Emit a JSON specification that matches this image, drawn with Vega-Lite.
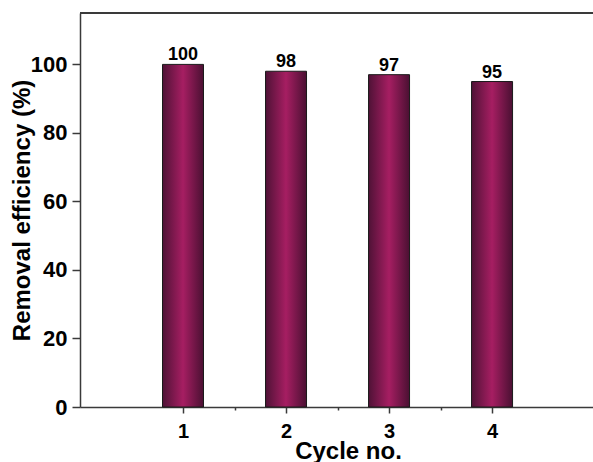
{
  "$schema": "https://vega.github.io/schema/vega-lite/v6.json",
  "width": 513,
  "height": 394,
  "autosize": {"type": "none"},
  "padding": {"left": 80, "top": 13, "right": 0, "bottom": 55},
  "background": "white",
  "config": {
    "font": "Liberation Sans",
    "view": {"stroke": null},
    "axis": {
      "grid": false,
      "domainColor": "#3a3a3a",
      "domainWidth": 1.5,
      "tickColor": "#3a3a3a",
      "tickWidth": 1.5,
      "labelFont": "Liberation Sans",
      "labelFontWeight": "bold",
      "labelColor": "black",
      "titleFont": "Liberation Sans",
      "titleFontWeight": "bold",
      "titleFontSize": 24,
      "titleColor": "black"
    }
  },
  "data": {
    "values": [
      {"cycle": 1, "eff": 100},
      {"cycle": 2, "eff": 98},
      {"cycle": 3, "eff": 97},
      {"cycle": 4, "eff": 95}
    ]
  },
  "layer": [
    {
      "encoding": {
        "x": {
          "field": "cycle",
          "type": "quantitative",
          "scale": {"domain": [0, 4.98], "nice": false, "zero": false, "padding": 0},
          "axis": {
            "title": "Cycle no.",
            "values": [1, 1.5, 2, 2.5, 3, 3.5, 4],
            "labelExpr": "datum.value % 1 === 0 ? datum.label : ''",
            "labelFontSize": 20,
            "tickSize": {"condition": {"test": "datum.value % 1 === 0", "value": 6}, "value": 3},
            "labelPadding": 8,
            "titleX": 268,
            "titleY": 32,
            "titleBaseline": "top"
          }
        },
        "y": {
          "field": "eff",
          "type": "quantitative",
          "scale": {"domain": [0, 115], "nice": false, "padding": 0},
          "axis": {
            "title": "Removal efficiency (%)",
            "values": [0, 10, 20, 30, 40, 50, 60, 70, 80, 90, 100, 110],
            "labelExpr": "datum.value % 20 === 0 ? datum.label : ''",
            "labelFontSize": 22,
            "tickSize": {"condition": {"test": "datum.value % 20 === 0", "value": 8}, "value": 4},
            "labelPadding": 5,
            "titleX": -58,
            "titleY": 197,
            "titleBaseline": "middle",
            "titleAngle": -90
          }
        }
      },
      "layer": [
        {
          "mark": {
            "type": "bar",
            "width": 41,
            "stroke": "#1a1a1a",
            "strokeWidth": 1,
            "color": {
              "gradient": "linear",
              "x1": 0, "x2": 1, "y1": 0, "y2": 0,
              "stops": [
                {"offset": 0, "color": "#4f1236"},
                {"offset": 0.5, "color": "#a61e62"},
                {"offset": 1, "color": "#4a1032"}
              ]
            }
          }
        },
        {
          "mark": {
            "type": "text",
            "baseline": "alphabetic",
            "dy": -4,
            "font": "Liberation Sans",
            "fontWeight": "bold",
            "fontSize": 18,
            "color": "black"
          },
          "encoding": {"text": {"field": "eff", "type": "quantitative"}}
        }
      ]
    },
    {
      "mark": {"type": "rule", "color": "#3a3a3a", "strokeWidth": 1.5},
      "encoding": {"y": {"datum": 115}}
    }
  ]
}
